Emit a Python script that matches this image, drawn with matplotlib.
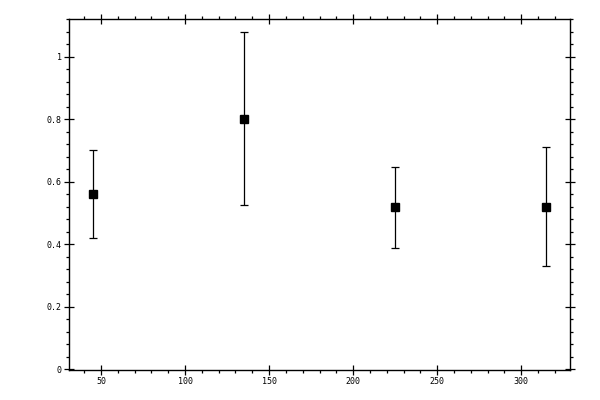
import matplotlib
matplotlib.use("Agg")
import matplotlib.pyplot as plt
from matplotlib.ticker import MultipleLocator

x_values = [45, 135, 225, 315]
y_values = [0.56, 0.80, 0.517, 0.517]
y_err_low = [0.14, 0.275, 0.131, 0.188]
y_err_high = [0.14, 0.28, 0.131, 0.192]

fig = plt.figure(figsize=(6, 4), dpi=100)
ax = fig.add_axes([0.115, 0.075, 0.835, 0.8775])

ax.errorbar(x_values, y_values, yerr=[y_err_low, y_err_high], fmt='s', color='black',
            markersize=5.2, capsize=3, elinewidth=0.9, capthick=0.9, ecolor='black')

ax.set_xlim(31, 329)
ax.set_ylim(-0.003, 1.12)
ax.xaxis.set_major_locator(MultipleLocator(50))
ax.xaxis.set_minor_locator(MultipleLocator(10))
ax.yaxis.set_major_locator(MultipleLocator(0.2))
ax.yaxis.set_minor_locator(MultipleLocator(0.04))
ax.yaxis.set_major_formatter(plt.FuncFormatter(lambda v, p: '0' if abs(v) < 1e-9 else ('1' if abs(v-1) < 1e-9 else f'{v:.1f}')))

ax.tick_params(which='major', direction='inout', length=6.5, width=0.9,
               top=True, right=True, labelsize=6, pad=2)
ax.tick_params(which='minor', direction='out', length=2.5, width=0.9,
               top=True, right=True)
for lab in ax.get_xticklabels() + ax.get_yticklabels():
    lab.set_family('DejaVu Sans Mono')
for s in ax.spines.values():
    s.set_linewidth(1.0)

fig.savefig('out.png', dpi=100)
